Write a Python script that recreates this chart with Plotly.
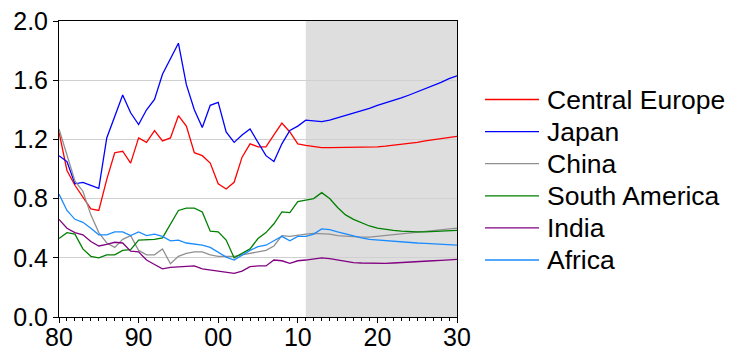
import plotly.graph_objects as go

years = list(range(1980, 2031))
forecast_start = 2011

central_europe = [1.25, 0.99, 0.89, 0.81, 0.73, 0.72, 0.93, 1.11, 1.12, 1.04,
                  1.21, 1.18, 1.26, 1.19, 1.21, 1.36, 1.29, 1.11, 1.09, 1.04,
                  0.90, 0.865, 0.91, 1.08, 1.17, 1.15, 1.15, 1.23, 1.31, 1.25,
                  1.17, 1.16, 1.15, 1.145, 1.145, 1.145, 1.145, 1.145, 1.145, 1.148,
                  1.15, 1.155, 1.16, 1.167, 1.173, 1.18, 1.19, 1.197, 1.203, 1.21,
                  1.22]
japan = [1.09, 1.05, 0.90, 0.91, 0.89, 0.87, 1.21, 1.36, 1.50, 1.38,
         1.30, 1.40, 1.47, 1.64, 1.74, 1.85, 1.57, 1.40, 1.28, 1.43,
         1.45, 1.25, 1.18, 1.23, 1.27, 1.18, 1.09, 1.05, 1.17, 1.26,
         1.29, 1.33, 1.325, 1.32, 1.33, 1.345, 1.36, 1.375, 1.39, 1.41,
         1.43, 1.445, 1.465, 1.48, 1.50, 1.52, 1.54, 1.565, 1.585, 1.61,
         1.63]
china = [1.27, 1.09, 0.92, 0.85, 0.69, 0.57, 0.50, 0.47, 0.525, 0.55,
         0.45, 0.42, 0.42, 0.46, 0.36, 0.41, 0.43, 0.44, 0.44, 0.42,
         0.41, 0.41, 0.41, 0.42, 0.43, 0.44, 0.45, 0.48, 0.55, 0.545,
         0.555, 0.56, 0.565, 0.565, 0.56, 0.55, 0.545, 0.54, 0.54, 0.54,
         0.545, 0.55, 0.555, 0.56, 0.565, 0.57, 0.575, 0.58, 0.585, 0.59,
         0.60]
south_america = [0.53, 0.57, 0.56, 0.46, 0.41, 0.40, 0.42, 0.42, 0.45, 0.455,
                 0.52, 0.52, 0.525, 0.535, 0.63, 0.72, 0.735, 0.735, 0.71, 0.58,
                 0.575, 0.52, 0.40, 0.43, 0.46, 0.53, 0.57, 0.63, 0.71, 0.705,
                 0.78, 0.79, 0.80, 0.84, 0.80, 0.74, 0.69, 0.66, 0.635, 0.615,
                 0.60, 0.59, 0.585, 0.58, 0.575, 0.575, 0.575, 0.578, 0.58, 0.582,
                 0.585]
india = [0.66, 0.60, 0.57, 0.555, 0.51, 0.48, 0.49, 0.505, 0.50, 0.445,
         0.44, 0.385, 0.355, 0.325, 0.335, 0.34, 0.34, 0.345, 0.325, 0.318,
         0.31, 0.30, 0.295, 0.31, 0.34, 0.345, 0.345, 0.385, 0.38, 0.363,
         0.38, 0.385, 0.39, 0.40, 0.395, 0.385, 0.375, 0.368, 0.365, 0.363,
         0.363, 0.363, 0.365, 0.367, 0.37, 0.373, 0.377, 0.38, 0.383, 0.387,
         0.39]
africa = [0.83, 0.72, 0.66, 0.64, 0.60, 0.555, 0.555, 0.575, 0.575, 0.55,
          0.575, 0.55, 0.56, 0.545, 0.515, 0.52, 0.50, 0.495, 0.485, 0.47,
          0.44, 0.405, 0.385, 0.42, 0.45, 0.475, 0.485, 0.515, 0.545, 0.515,
          0.545, 0.545, 0.56, 0.595, 0.59, 0.575, 0.56, 0.545, 0.535, 0.525,
          0.52, 0.515, 0.51, 0.505, 0.50, 0.50, 0.498, 0.495, 0.49, 0.488,
          0.485]

x_tick_vals = [1980, 1990, 2000, 2010, 2020, 2030]
x_tick_text = ["80", "90", "00", "10", "20", "30"]
y_tick_vals = [0.0, 0.4, 0.8, 1.2, 1.6, 2.0]
y_tick_text = ["0.0", "0.4", "0.8", "1.2", "1.6", "2.0"]

series = [
    ("Central Europe", central_europe, "#ff0000"),
    ("Japan", japan, "#0000ff"),
    ("China", china, "#909090"),
    ("South America", south_america, "#008000"),
    ("India", india, "#800080"),
    ("Africa", africa, "#1a8cff"),
]

W, H = 729, 352
ML, MR, MT, MB = 59, 272, 21, 35
PW, PH = W - ML - MR, H - MT - MB


def px_to_paper_x(px):
    return (px - ML) / PW


def px_to_paper_y(py):
    return (H - MB - py) / PH


fig = go.Figure()
for name, vals, color in series:
    fig.add_trace(go.Scatter(x=years, y=vals, mode="lines", name=name,
                             line=dict(color=color, width=1.3), showlegend=False))

fig.add_shape(type="rect", xref="x", yref="y", x0=forecast_start, x1=years[-1],
              y0=0, y1=2, fillcolor="#dedede", line=dict(width=0), layer="below")

# manual legend (line samples + real text labels)
LEG_X0, LEG_X1, LEG_TX = 485, 539, 546
LEG_Y0, LEG_DY = 99.5, 32.1
for i, (name, vals, color) in enumerate(series):
    yc = LEG_Y0 + i * LEG_DY
    fig.add_shape(type="line", xref="paper", yref="paper",
                  x0=px_to_paper_x(LEG_X0), x1=px_to_paper_x(LEG_X1),
                  y0=px_to_paper_y(yc), y1=px_to_paper_y(yc),
                  line=dict(color=color, width=1.3))
    fig.add_annotation(xref="paper", yref="paper", x=px_to_paper_x(LEG_TX),
                       y=px_to_paper_y(yc), xanchor="left", yanchor="middle",
                       text=name, showarrow=False, font=dict(size=26.5),
                       borderpad=0)

FONT = "Liberation Sans, Arial, sans-serif"
fig.update_layout(
    width=W, height=H,
    margin=dict(l=ML, r=MR, t=MT, b=MB, autoexpand=False),
    paper_bgcolor="white", plot_bgcolor="white",
    font=dict(family=FONT, size=25, color="black"),
    showlegend=False,
    xaxis=dict(range=[1980, 2030], tickvals=x_tick_vals, ticktext=x_tick_text,
               showgrid=False, zeroline=False, showline=True, linecolor="black",
               linewidth=1, mirror=True, ticks="outside", ticklen=5,
               tickcolor="black", ticklabelstandoff=-7,
               minor=dict(dtick=1, tick0=1980, ticks="outside", ticklen=3,
                          tickcolor="black", showgrid=False),
               tickfont=dict(size=25)),
    yaxis=dict(range=[0, 2], tickvals=y_tick_vals, ticktext=y_tick_text,
               showgrid=True, gridcolor="#d0d0d0", gridwidth=1, zeroline=False,
               showline=True, linecolor="black", linewidth=1, mirror=True,
               ticks="outside", ticklen=5, tickcolor="black",
               tickfont=dict(size=25)),
)

fig.write_html("out.html")
